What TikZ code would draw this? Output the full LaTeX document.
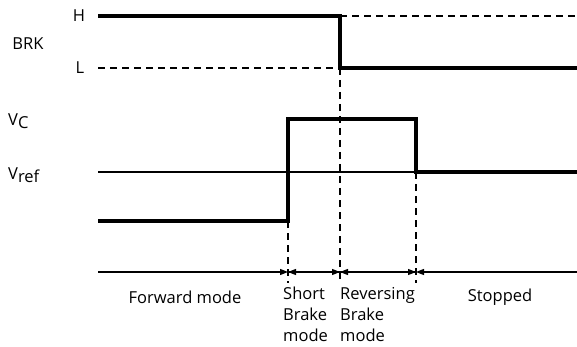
\documentclass[tikz,border=0pt]{standalone}
\usepackage{fontspec}
\setmainfont{Open Sans}
\usetikzlibrary{arrows.meta}
\begin{document}
\begin{tikzpicture}[x=1pt,y=-1pt,
  thickw/.style={line width=3.6pt},
  thinw/.style={line width=1.3pt},
  dashw/.style={line width=1.8pt,dash pattern=on 7pt off 5pt},
  axisw/.style={line width=1.3pt},
  tip/.style={-{Triangle[length=8pt,width=6pt]}},
  lbl/.style={font=\fontsize{16.5}{21}\selectfont,inner sep=0pt},
  mlbl/.style={lbl,align=left,anchor=north west}]
\useasboundingbox (0,0) rectangle (577,347);
% coordinates
\coordinate (hA) at (98,16);
\coordinate (hB) at (340,16);
\coordinate (hC) at (577,16);
\coordinate (lA) at (98,68);
\coordinate (lB) at (340,68);
\coordinate (lC) at (577,68);
\coordinate (vA) at (98,221);
\coordinate (vB) at (288,221);
\coordinate (vC) at (288,119);
\coordinate (vD) at (416,119);
\coordinate (vE) at (416,172);
\coordinate (vF) at (577,172);
\coordinate (rA) at (98,172);
\coordinate (aA) at (98,272);
\coordinate (a1) at (288,272);
\coordinate (a2) at (340,272);
\coordinate (a3) at (416,272);
\coordinate (aE) at (577,272);
\coordinate (b1) at (288,283);
\coordinate (b2) at (340,283);
\coordinate (b3) at (416,283);
% labels
\node[lbl] (H) at (79,16) {H};
\node[lbl] (L) at (80,68) {L};
\node[lbl] (BRK) at (28,44) {BRK};
\node[lbl,anchor=west] (VC) at (8,121) {V\raisebox{-0.35ex}{C}};
\node[lbl,anchor=west] (Vref) at (8,175) {V\raisebox{-0.35ex}{ref}};
% BRK
\draw[dashw] (lA) -- (lB);
\draw[dashw] (hB) -- (hC);
\draw[thickw,line join=miter] (hA) -- (hB) -- (lB) -- (lC);
% Vref thin line
\draw[thinw] (rA) -- (vE);
% dashed verticals
\draw[dashw] (lB) -- (b2);
\draw[dashw] (vB) -- (b1);
\draw[dashw] (vE) -- (b3);
% Vc waveform
\draw[thickw,line join=miter] (vA) -- (vB) -- (vC) -- (vD) -- (vE) -- (vF);
% axis with arrows
\draw[axisw,tip] (aA) -- (a1);
\draw[axisw,tip] (a2) -- (a1);
\draw[axisw,tip] (a1) -- (a2);
\draw[axisw,tip] (a3) -- (a2);
\draw[axisw,tip] (a2) -- (a3);
\draw[axisw,tip] (aE) -- (a3);
% mode labels
\node[lbl] (fwd) at (185,297) {Forward mode};
\node[mlbl] (sbm) at (283,287) {Short\\Brake\\mode};
\node[mlbl] (rbm) at (340,287) {Reversing\\Brake\\mode};
\node[lbl] (stp) at (500,297) {Stopped};
\end{tikzpicture}
\end{document}
